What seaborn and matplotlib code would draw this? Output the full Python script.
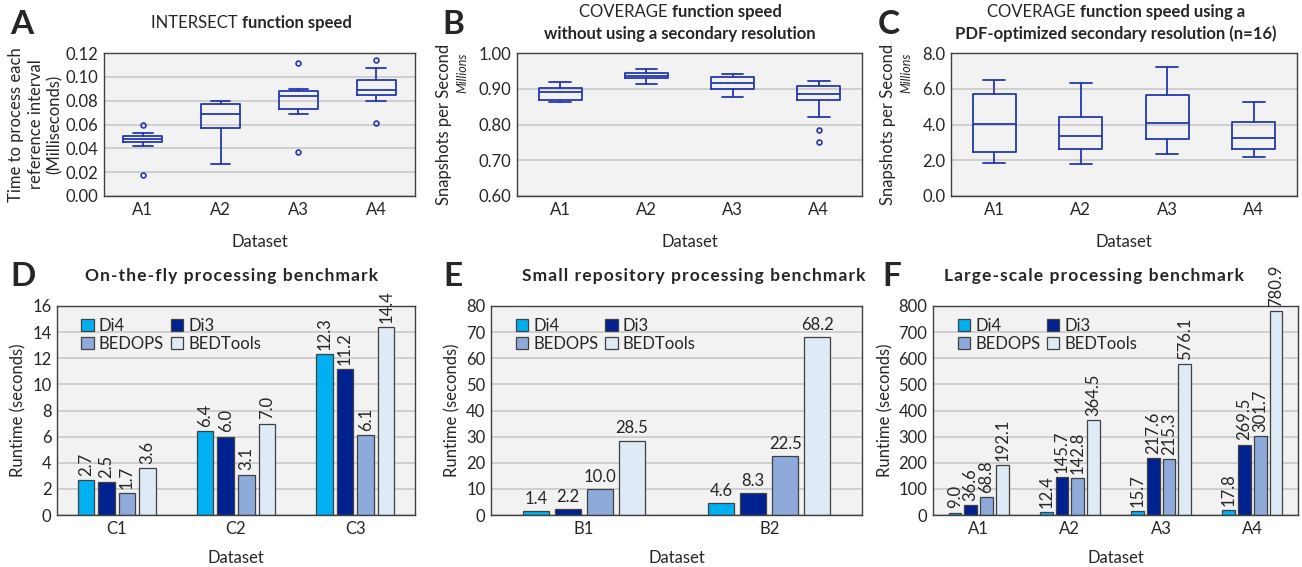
import numpy as np
import pandas as pd
import matplotlib
matplotlib.use('Agg')
import matplotlib.pyplot as plt
import seaborn as sns

# ---- data ----
datasets_a = ['A1', 'A2', 'A3', 'A4']

# panel A: box stats (whisker low, q1, median, q3, whisker high), outliers
a_whislo = [0.042, 0.027, 0.069, 0.080]
a_q1 = [0.045, 0.057, 0.073, 0.085]
a_med = [0.048, 0.069, 0.084, 0.089]
a_q3 = [0.050, 0.077, 0.088, 0.097]
a_whishi = [0.053, 0.080, 0.090, 0.107]
a_fliers = [[0.060, 0.018], [], [0.112, 0.037], [0.114, 0.061]]

# panel B (millions of snapshots / s)
b_whislo = [0.862, 0.912, 0.878, 0.820]
b_q1 = [0.868, 0.930, 0.898, 0.868]
b_med = [0.892, 0.937, 0.916, 0.885]
b_q3 = [0.902, 0.943, 0.933, 0.908]
b_whishi = [0.920, 0.956, 0.941, 0.921]
b_fliers = [[], [], [], [0.785, 0.751]]

# panel C (millions of snapshots / s)
c_whislo = [1.85, 1.80, 2.35, 2.20]
c_q1 = [2.48, 2.65, 3.18, 2.65]
c_med = [4.05, 3.33, 4.08, 3.25]
c_q3 = [5.72, 4.42, 5.63, 4.13]
c_whishi = [6.48, 6.30, 7.20, 5.28]
c_fliers = [[], [], [], []]

tools = ['Di4', 'Di3', 'BEDOPS', 'BEDTools']

d_sets = ['C1', 'C2', 'C3']
d_di4 = [2.7, 6.4, 12.3]
d_di3 = [2.5, 6.0, 11.2]
d_bedops = [1.7, 3.1, 6.1]
d_bedtools = [3.6, 7.0, 14.4]

e_sets = ['B1', 'B2']
e_di4 = [1.4, 4.6]
e_di3 = [2.2, 8.3]
e_bedops = [10.0, 22.5]
e_bedtools = [28.5, 68.2]

f_sets = ['A1', 'A2', 'A3', 'A4']
f_di4 = [9.0, 12.4, 15.7, 17.8]
f_di3 = [36.6, 145.7, 217.6, 269.5]
f_bedops = [68.8, 142.8, 215.3, 301.7]
f_bedtools = [192.1, 364.5, 576.1, 780.9]

# ---- style ----
sns.set_theme(style='white')
plt.rcParams['font.family'] = ['Lato', 'DejaVu Sans']
plt.rcParams['axes.edgecolor'] = '#404040'

BG = '#f2f2f2'
GRID = '#c8c8c8'
BOXC = '#2438b0'
palette = {'Di4': '#00b0f0', 'Di3': '#002190', 'BEDOPS': '#8eaadb', 'BEDTools': '#deeaf6'}
TICK = 12

W, H = 1302, 567
fig = plt.figure(figsize=(W / 100, H / 100), dpi=100)


def make_ax(l, r, t, b):
    ax = fig.add_axes([l / W, 1 - b / H, (r - l) / W, (b - t) / H])
    ax.set_facecolor(BG)
    ax.set_axisbelow(True)
    ax.yaxis.grid(True, color=GRID, lw=1.2)
    for s in ax.spines.values():
        s.set_color('#404040')
        s.set_linewidth(1.0)
    ax.tick_params(labelsize=TICK, length=0, pad=4)
    return ax


def box_panel(ax, whislo, q1, med, q3, whishi, fliers, ylim, yticks, fmt):
    stats = []
    for i, name in enumerate(datasets_a):
        stats.append(dict(label=name, whislo=whislo[i], q1=q1[i], med=med[i],
                          q3=q3[i], whishi=whishi[i], fliers=fliers[i]))
    ax.bxp(stats, widths=0.5, showfliers=True,
           boxprops=dict(color=BOXC, lw=1.3),
           whiskerprops=dict(color=BOXC, lw=1.3),
           capprops=dict(color=BOXC, lw=1.3),
           medianprops=dict(color=BOXC, lw=1.3),
           flierprops=dict(marker='o', markersize=3.5, markerfacecolor='none',
                           markeredgecolor=BOXC, markeredgewidth=1.2))
    ax.set_ylim(*ylim)
    ax.set_yticks(yticks)
    ax.set_yticklabels([fmt % v for v in yticks])
    ax.set_xlim(0.5, 4.5)
    ax.set_xlabel('Dataset', fontsize=TICK, labelpad=12)


def bar_panel(ax, sets, di4, di3, bedops, bedtools, ylim, step, rot):
    df = pd.DataFrame({
        'Dataset': sets * 4,
        'Tool': sum([[t] * len(sets) for t in tools], []),
        'Runtime': di4 + di3 + bedops + bedtools,
    })
    sns.barplot(data=df, x='Dataset', y='Runtime', hue='Tool', hue_order=tools,
                palette=palette, width=0.69, gap=0.2, edgecolor='#404040',
                linewidth=0.9, ax=ax, saturation=1)
    for cont in ax.containers:
        ax.bar_label(cont, fmt='%.1f', rotation=rot, padding=3, fontsize=TICK)
    ax.set_ylim(*ylim)
    ax.set_yticks(np.arange(ylim[0], ylim[1] + step / 2, step))
    ax.set_xlabel('Dataset', fontsize=TICK, labelpad=10)
    ax.set_ylabel('Runtime (seconds)', fontsize=TICK, labelpad=4)
    h, l = ax.get_legend_handles_labels()
    order = [0, 2, 1, 3]
    ax.legend([h[i] for i in order], [l[i] for i in order], ncol=2,
              loc='upper left', bbox_to_anchor=(0.04, 0.99), frameon=False,
              fontsize=TICK, handlelength=0.75, handleheight=0.75,
              handletextpad=0.3, columnspacing=0.4, labelspacing=0.1,
              borderaxespad=0.2)


renderer = fig.canvas.get_renderer()


def mixed_line(xc, y, parts, size, spacing=0.0):
    # parts: list of (text, weight), drawn side by side, centred on xc
    texts = []
    for s, w in parts:
        if spacing:
            s = '\u200a'.join(s)
        texts.append(fig.text(0, 0, s, fontsize=size, fontweight=w,
                              ha='left', va='center', transform=fig.transFigure))
    widths = [t.get_window_extent(renderer).width for t in texts]
    x = xc - sum(widths) / 2
    for t, wd in zip(texts, widths):
        t.set_x(x / W)
        t.set_y(1 - y / H)
        x += wd


# ---- panel A ----
axA = make_ax(104, 415, 53, 196)
box_panel(axA, a_whislo, a_q1, a_med, a_q3, a_whishi, a_fliers,
          (0, 0.12), np.arange(0, 0.121, 0.02), '%.2f')
axA.set_ylabel('Time to process each\nreference interval\n(Milliseconds)',
               fontsize=TICK, labelpad=2, linespacing=1.25)

# ---- panel B ----
axB = make_ax(517, 862, 53, 196)
box_panel(axB, b_whislo, b_q1, b_med, b_q3, b_whishi, b_fliers,
          (0.6, 1.0), np.arange(0.6, 1.001, 0.1), '%.2f')
axB.set_ylabel('Snapshots per Second', fontsize=TICK, labelpad=19)
axB.text(-0.158, 1.0, 'Millions', transform=axB.transAxes, rotation=90,
         fontsize=9, style='italic', ha='center', va='top')

# ---- panel C ----
axC = make_ax(951, 1297, 53, 196)
box_parts = (c_whislo, c_q1, c_med, c_q3, c_whishi, c_fliers)
box_panel(axC, *box_parts, (0, 8), np.arange(0, 8.01, 2), '%.1f')
axC.set_ylabel('Snapshots per Second', fontsize=TICK, labelpad=19)
axC.text(-0.13, 1.0, 'Millions', transform=axC.transAxes, rotation=90,
         fontsize=9, style='italic', ha='center', va='top')

# ---- bar panels ----
axD = make_ax(57, 415, 306, 515)
bar_panel(axD, d_sets, d_di4, d_di3, d_bedops, d_bedtools, (0, 16), 2, 90)
axE = make_ax(491, 862, 306, 515)
bar_panel(axE, e_sets, e_di4, e_di3, e_bedops, e_bedtools, (0, 80), 10, 0)
axF = make_ax(933, 1298, 306, 515)
bar_panel(axF, f_sets, f_di4, f_di3, f_bedops, f_bedtools, (0, 800), 100, 90)

# ---- titles ----
mixed_line(251, 23, [('INTERSECT ', 'normal'), ('function speed', 'bold')], 12)
mixed_line(680, 12, [('COVERAGE ', 'normal'), ('function speed', 'bold')], 12)
mixed_line(680, 34, [('without using a secondary resolution', 'bold')], 12)
mixed_line(1116, 12, [('COVERAGE ', 'normal'), ('function speed using a', 'bold')], 12)
mixed_line(1116, 34, [('PDF-optimized secondary resolution (n=16)', 'bold')], 12)
mixed_line(232, 276, [('On-the-fly processing benchmark', 'bold')], 12.5, spacing=1)
mixed_line(694, 276, [('Small repository processing benchmark', 'bold')], 12.5, spacing=1)
mixed_line(1094, 276, [('Large-scale processing benchmark', 'bold')], 12.5, spacing=1)

for letter, x, y in [('A', 10, 25), ('B', 442, 25), ('C', 878, 25),
                     ('D', 10, 277), ('E', 443, 277), ('F', 882, 277)]:
    fig.text(x / W, 1 - y / H, letter, fontsize=24, fontweight='bold',
             ha='left', va='center')

fig.savefig('out.png', dpi=100, facecolor='white')
